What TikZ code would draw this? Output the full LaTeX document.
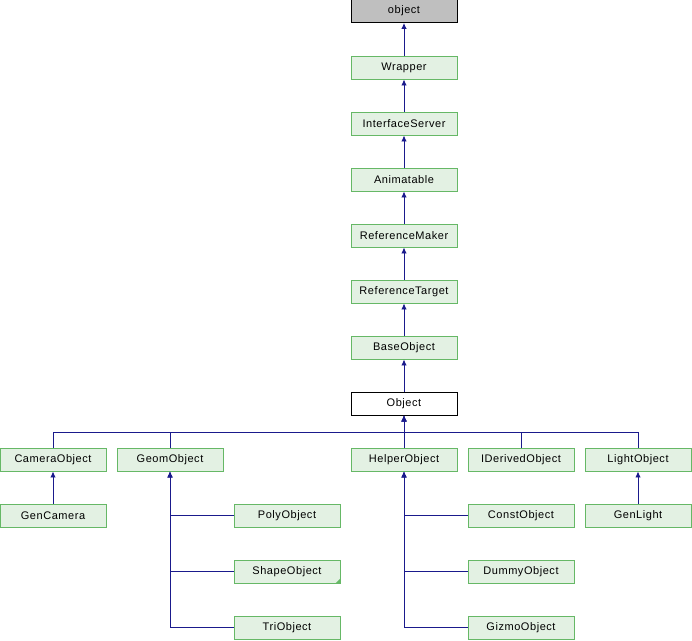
\documentclass[tikz,border=0pt]{standalone}
\usepackage{fontspec}
\setmainfont{Liberation Sans}[LetterSpace=5]
\usetikzlibrary{arrows.meta}
\definecolor{boxfill}{HTML}{E3F1E3}
\definecolor{boxline}{HTML}{66B866}
\definecolor{edgecol}{HTML}{1A1A8C}
\definecolor{topfill}{HTML}{BFBFBF}
\begin{document}
\begin{tikzpicture}[x=1pt,y=-1pt,
  cls/.style={draw=boxline,fill=boxfill,line width=0.9pt,minimum width=106pt,minimum height=23pt,inner sep=0pt,font=\fontsize{11}{13}\selectfont},
  topcls/.style={cls,draw=black,fill=topfill},
  curcls/.style={cls,draw=black,fill=white},
  edge/.style={draw=edgecol,line width=0.9pt,-{Latex[length=6pt,width=5.5pt]}}]
\useasboundingbox (0,0) rectangle (692,640);
\node[topcls] (object) at (404,11) {object};
\node[cls] (wrapper) at (404,67.5) {Wrapper};
\node[cls] (iserver) at (404,123.5) {InterfaceServer};
\node[cls] (anim) at (404,179.5) {Animatable};
\node[cls] (refmaker) at (404,235.5) {ReferenceMaker};
\node[cls] (reftarget) at (404,291.5) {ReferenceTarget};
\node[cls] (baseobj) at (404,347.5) {BaseObject};
\node[curcls] (obj) at (404,403.5) {Object};
\node[cls] (camobj) at (53,459.5) {CameraObject};
\node[cls] (geomobj) at (170,459.5) {GeomObject};
\node[cls] (helperobj) at (404,459.5) {HelperObject};
\node[cls] (iderived) at (521,459.5) {IDerivedObject};
\node[cls] (lightobj) at (638,459.5) {LightObject};
\node[cls] (gencam) at (53,515.5) {GenCamera};
\node[cls] (polyobj) at (287,515.5) {PolyObject};
\node[cls] (constobj) at (521,515.5) {ConstObject};
\node[cls] (genlight) at (638,515.5) {GenLight};
\node[cls] (shapeobj) at (287,571.5) {ShapeObject};
\node[cls] (dummyobj) at (521,571.5) {DummyObject};
\node[cls] (triobj) at (287,627.5) {TriObject};
\node[cls] (gizmoobj) at (521,627.5) {GizmoObject};
\fill[boxline] (shapeobj.south east) -- ++(-5,0) -- ++(5,-5) -- cycle;
\draw[edge] (wrapper) -- (object);
\draw[edge] (iserver) -- (wrapper);
\draw[edge] (anim) -- (iserver);
\draw[edge] (refmaker) -- (anim);
\draw[edge] (reftarget) -- (refmaker);
\draw[edge] (baseobj) -- (reftarget);
\draw[edge] (obj) -- (baseobj);
\coordinate (bus) at (404,432);
\draw[edge] (camobj.north) |- (bus) -- (obj.south);
\draw[edge] (geomobj.north) |- (bus) -- (obj.south);
\draw[edge] (helperobj.north) -- (obj.south);
\draw[edge] (iderived.north) |- (bus) -- (obj.south);
\draw[edge] (lightobj.north) |- (bus) -- (obj.south);
\draw[edge] (gencam) -- (camobj);
\draw[edge] (genlight) -- (lightobj);
\draw[edge] (polyobj.west) -| (geomobj.south);
\draw[edge] (shapeobj.west) -| (geomobj.south);
\draw[edge] (triobj.west) -| (geomobj.south);
\draw[edge] (constobj.west) -| (helperobj.south);
\draw[edge] (dummyobj.west) -| (helperobj.south);
\draw[edge] (gizmoobj.west) -| (helperobj.south);
\end{tikzpicture}
\end{document}
